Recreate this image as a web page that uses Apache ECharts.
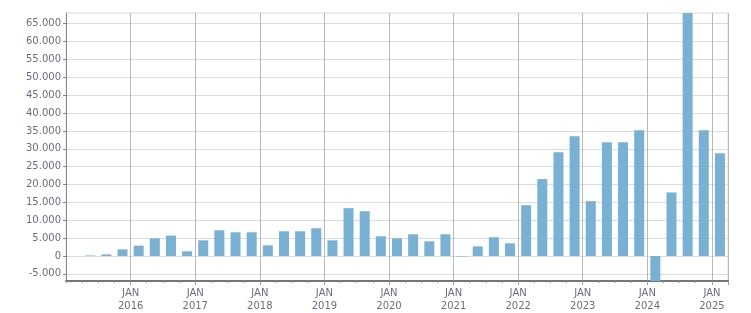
<!DOCTYPE html>
<html>
<head>
<meta charset="utf-8">
<script src="https://cdn.jsdelivr.net/npm/echarts@6/dist/echarts.min.js"></script>
<style>
html,body{margin:0;padding:0;background:#fff;}
#chart{width:751px;height:313px;}
</style>
</head>
<body>
<div id="chart"></div>
<script>
// Quarterly categories (2015 Q1 .. 2025 Q1)
var categories = [
  '2015 Q1','2015 Q2','2015 Q3','2015 Q4',
  '2016 Q1','2016 Q2','2016 Q3','2016 Q4',
  '2017 Q1','2017 Q2','2017 Q3','2017 Q4',
  '2018 Q1','2018 Q2','2018 Q3','2018 Q4',
  '2019 Q1','2019 Q2','2019 Q3','2019 Q4',
  '2020 Q1','2020 Q2','2020 Q3','2020 Q4',
  '2021 Q1','2021 Q2','2021 Q3','2021 Q4',
  '2022 Q1','2022 Q2','2022 Q3','2022 Q4',
  '2023 Q1','2023 Q2','2023 Q3','2023 Q4',
  '2024 Q1','2024 Q2','2024 Q3','2024 Q4',
  '2025 Q1'
];
var values = [
  null, 150, 450, 1850,
  2900, 4950, 5700, 1300,
  4380, 7200, 6630, 6630,
  2980, 6910, 6910, 7760,
  4380, 13380, 12530, 5510,
  4950, 6070, 4100, 6070,
  -150, 2700, 5230, 3540,
  14220, 21520, 29030, 33520,
  15340, 31830, 31830, 35200,
  -8500, 17790, 70500, 35200,
  28750
];
var yTicks = [-5000, 0, 5000, 10000, 15000, 20000, 25000, 30000, 35000, 40000, 45000, 50000, 55000, 60000, 65000];
var yMin = -7000, yMax = 68000;

var textColor = '#6f6b80';
var fontFamily = 'DejaVu Sans';
function isYearStart(i) { return i > 0 && i % 4 === 0; }
function fmtNum(v) {
  var s = String(Math.abs(v)).replace(/\B(?=(\d{3})+(?!\d))/g, '.');
  return (v < 0 ? '-' : '') + s;
}

var chart = echarts.init(document.getElementById('chart'), null, {renderer: 'canvas'});
chart.setOption({
  animation: false,
  grid: {left: 66, right: 23, top: 13, bottom: 32, show: true, borderColor: '#dcdcdc', borderWidth: 1, containLabel: false},
  xAxis: [{
    type: 'category',
    data: categories,
    boundaryGap: true,
    axisLine: {show: true, onZero: false, lineStyle: {color: '#777', width: 2}},
    axisTick: {show: true, interval: 0, length: 2, lineStyle: {color: '#999'}},
    axisLabel: {
      interval: function (i) { return isYearStart(i); },
      formatter: function (v) { return 'JAN\n' + v.slice(0, 4); },
      color: textColor, fontFamily: fontFamily, fontSize: 10, lineHeight: 13,
      margin: 6, padding: [0, 16, 0, 0]
    },
    splitLine: {show: true, interval: function (i) { return isYearStart(i); }, lineStyle: {color: '#b8b8b8', width: 1}}
  }, {
    type: 'category',
    data: categories,
    position: 'bottom',
    boundaryGap: true,
    axisLine: {show: false, onZero: false},
    axisTick: {show: true, interval: function (i) { return isYearStart(i); }, length: 4, lineStyle: {color: '#999'}},
    axisLabel: {show: false},
    splitLine: {show: false}
  }],
  yAxis: {
    type: 'value',
    min: yMin, max: yMax, splitNumber: 15,
    axisLine: {show: true, onZero: false, lineStyle: {color: '#888', width: 1}},
    axisTick: {show: true, length: 3, customValues: yTicks, lineStyle: {color: '#888'}},
    axisLabel: {
      customValues: yTicks,
      formatter: function (v) { return fmtNum(v); },
      color: textColor, fontFamily: fontFamily, fontSize: 10, margin: 5
    },
    splitLine: {show: true, lineStyle: {color: '#dcdcdc', width: 1}}
  },
  series: [{
    type: 'bar',
    xAxisIndex: 0,
    data: values,
    barWidth: 10,
    clip: true,
    itemStyle: {color: '#78b1d3'}
  }]
});
</script>
</body>
</html>
